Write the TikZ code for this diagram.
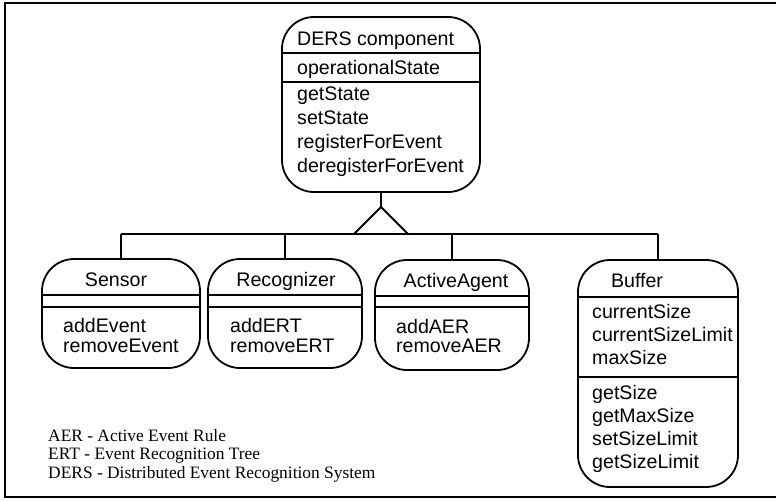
\documentclass[tikz,border=0pt]{standalone}
\usepackage{fontspec}
\setmainfont{Liberation Sans}
\newfontfamily\legendfont{Liberation Serif}
\begin{document}
\begin{tikzpicture}[x=1pt,y=-1pt,
  classbox/.style={draw, line width=1.8pt, rounded corners=32pt, inner sep=0pt, outer sep=0pt, anchor=north west},
  sep/.style={line width=1.8pt},
  conn/.style={line width=1.8pt},
  lbl/.style={anchor=base west, inner sep=0pt, font=\fontsize{19.6}{23}\selectfont},
  ttl/.style={anchor=base, inner sep=0pt, font=\fontsize{19.6}{23}\selectfont},
  leg/.style={anchor=base west, inner sep=0pt, font=\legendfont\fontsize{17.4}{20}\selectfont}]
\useasboundingbox (0,0) rectangle (776,501);
% frame
\draw[line width=2.2pt] (776,3) -- (5,3) -- (5,497) -- (776,497);

% DERS component
\node[classbox, minimum width=198pt, minimum height=175pt] (ders) at (282,17) {};
\draw[sep] (ders.west |- 0,53) -- (ders.east |- 0,53);
\draw[sep] (ders.west |- 0,82) -- (ders.east |- 0,82);
\node[lbl] (dersT) at (297,45) {DERS component};
\node[lbl] (dersA) at (297,74) {operationalState};
\node[lbl] (dersM1) at (297,100) {getState};
\node[lbl] (dersM2) at (297,124) {setState};
\node[lbl] (dersM3) at (297,148) {registerForEvent};
\node[lbl] (dersM4) at (297,172) {deregisterForEvent};

% Sensor
\node[classbox, minimum width=158pt, minimum height=109pt] (sensor) at (42,259) {};
\draw[sep] (sensor.west |- 0,295) -- (sensor.east |- 0,295);
\draw[sep] (sensor.west |- 0,307) -- (sensor.east |- 0,307);
\node[ttl] (sensorT) at (116,286) {Sensor};
\node[lbl] (sensorM1) at (63,332) {addEvent};
\node[lbl] (sensorM2) at (63,352) {removeEvent};

% Recognizer
\node[classbox, minimum width=154pt, minimum height=109pt] (recog) at (208,259) {};
\draw[sep] (recog.west |- 0,295) -- (recog.east |- 0,295);
\draw[sep] (recog.west |- 0,307) -- (recog.east |- 0,307);
\node[ttl] (recogT) at (286,286) {Recognizer};
\node[lbl] (recogM1) at (230,332) {addERT};
\node[lbl] (recogM2) at (230,352) {removeERT};

% ActiveAgent
\node[classbox, minimum width=154pt, minimum height=110pt] (agent) at (375,260) {};
\draw[sep] (agent.west |- 0,296) -- (agent.east |- 0,296);
\draw[sep] (agent.west |- 0,307) -- (agent.east |- 0,307);
\node[ttl] (agentT) at (456,287) {ActiveAgent};
\node[lbl] (agentM1) at (396,333) {addAER};
\node[lbl] (agentM2) at (396,352) {removeAER};

% Buffer
\node[classbox, minimum width=160pt, minimum height=227pt] (buffer) at (578,260) {};
\draw[sep] (buffer.west |- 0,297) -- (buffer.east |- 0,297);
\draw[sep] (buffer.west |- 0,377) -- (buffer.east |- 0,377);
\node[ttl] (bufferT) at (637,287) {Buffer};
\node[lbl] (bufferA1) at (592,318) {currentSize};
\node[lbl] (bufferA2) at (592,341) {currentSizeLimit};
\node[lbl] (bufferA3) at (592,364) {maxSize};
\node[lbl] (bufferM1) at (592,399) {getSize};
\node[lbl] (bufferM2) at (592,422) {getMaxSize};
\node[lbl] (bufferM3) at (592,445) {setSizeLimit};
\node[lbl] (bufferM4) at (592,468) {getSizeLimit};

% generalization
\coordinate (apex) at (381,207);
\coordinate (bus) at (0,234);
\draw[conn] (ders.south) -- (apex);
\draw[conn, line join=miter] (apex) -- (354,234) -- (408,234) -- cycle;
\draw[conn] (sensor.north |- bus) -- (buffer.north |- bus);
\draw[conn] (sensor.north |- bus) -- (sensor.north);
\draw[conn] (recog.north |- bus) -- (recog.north);
\draw[conn] (agent.north |- bus) -- (agent.north);
\draw[conn] (buffer.north |- bus) -- (buffer.north);

% legend
\node[leg] (leg1) at (48,441) {AER - Active Event Rule};
\node[leg] (leg2) at (48,459.5) {ERT - Event Recognition Tree};
\node[leg] (leg3) at (48,478) {DERS - Distributed Event Recognition System};
\end{tikzpicture}
\end{document}
